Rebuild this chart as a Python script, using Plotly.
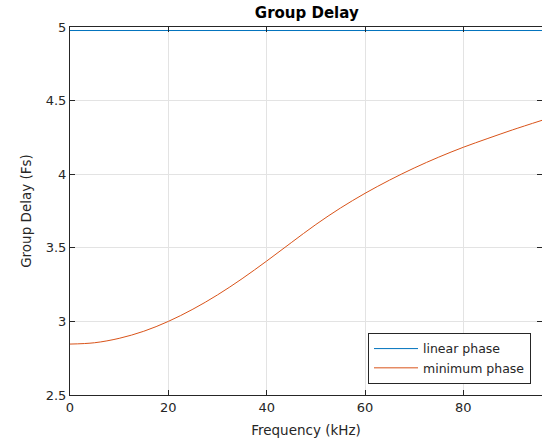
import plotly.graph_objects as go

freq_khz = [0, 5, 10, 15, 20, 25, 30, 35, 40, 45, 50, 55, 60, 65, 70, 75, 80, 85, 90, 96]
min_phase = [2.846, 2.855, 2.885, 2.933, 3.000, 3.083, 3.180, 3.290, 3.410, 3.535, 3.658,
             3.770, 3.870, 3.960, 4.042, 4.116, 4.183, 4.243, 4.301, 4.366]
lin_freq = [0, 96]
lin_phase = [4.976, 4.976]

x_ticks = [0, 20, 40, 60, 80]
y_ticks = [2.5, 3, 3.5, 4, 4.5, 5]
y_tick_text = ["2.5", "3", "3.5", "4", "4.5", "5"]

axis_col = "#262626"
font_fam = "DejaVu Sans"

fig = go.Figure()
fig.add_trace(go.Scatter(x=lin_freq, y=lin_phase, mode="lines", name="linear phase",
                         line=dict(color="#0072BD", width=1)))
fig.add_trace(go.Scatter(x=freq_khz, y=min_phase, mode="lines", name="minimum phase",
                         line=dict(color="#D95319", width=1, shape="spline", smoothing=1.0)))

common_axis = dict(showline=True, linecolor=axis_col, linewidth=1, mirror="ticks",
                   ticks="inside", ticklen=5, tickcolor=axis_col, automargin=False,
                   showgrid=True, gridcolor="#e3e3e3", gridwidth=1, zeroline=False,
                   tickfont=dict(family=font_fam, size=13, color=axis_col))

fig.update_xaxes(range=[0, 96], tickvals=x_ticks,
                 title=dict(text="Frequency (kHz)", font=dict(family=font_fam, size=13.5, color=axis_col), standoff=11),
                 **common_axis)
fig.update_yaxes(range=[2.5, 5], tickvals=y_ticks, ticktext=y_tick_text,
                 title=dict(text="Group Delay (Fs)", font=dict(family=font_fam, size=13.5, color=axis_col), standoff=10),
                 **common_axis)

fig.update_layout(
    width=542, height=445, autosize=False,
    margin=dict(l=70, r=0, t=27, b=50, autoexpand=False),
    paper_bgcolor="white", plot_bgcolor="white",
    title=dict(text="<b>Group Delay</b>", x=0.566, xref="container", xanchor="center",
               y=0.971, yref="container", yanchor="middle",
               font=dict(family=font_fam, size=15, color="black")),
    legend=dict(x=0.9767, xanchor="right", y=0.03, yanchor="bottom",
                bordercolor=axis_col, borderwidth=1, bgcolor="white",
                font=dict(family=font_fam, size=12.5, color=axis_col),
                tracegroupgap=0, itemwidth=44),
    showlegend=True,
)

fig.write_html("out.html", config={"responsive": False, "displayModeBar": False},
               post_script="document.body.style.margin='0';document.body.style.overflow='hidden';")
